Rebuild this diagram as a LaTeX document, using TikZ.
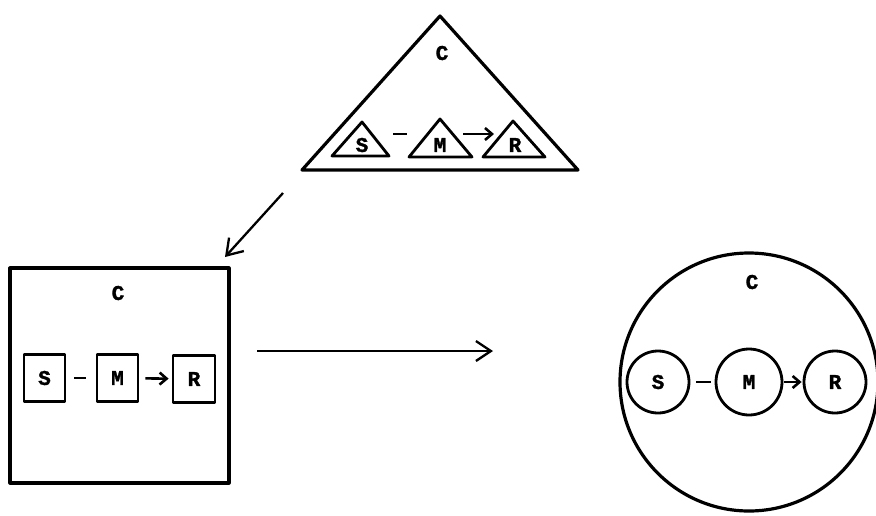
\documentclass[tikz,border=0pt]{standalone}
\usepackage{fontspec}
\setmonofont[BoldFeatures={FakeBold=1.5}]{Liberation Mono}
\usetikzlibrary{arrows.meta}
\tikzset{
  outer/.style={draw, line width=3.2pt, line join=round},
  inner/.style={draw, line width=2.8pt, line join=round},
  lbl/.style={font=\ttfamily\bfseries\fontsize{21}{21}\selectfont, inner sep=0pt},
  link/.style={line width=2.8pt},
  smallarrow/.style={line width=2.6pt, -{Straight Barb[length=7pt,width=12pt]}},
  bigarrow/.style={line width=2.3pt, -{Straight Barb[length=15pt,width=20pt]}},
  sqbox/.style={inner, rectangle, minimum width=41pt, minimum height=47pt, inner sep=0pt},
  circ/.style={inner, circle, inner sep=0pt},
}
\begin{document}
\begin{tikzpicture}[x=1pt,y=-1pt]
\useasboundingbox (0,0) rectangle (876,515);
% ---- triangle ----
\draw[outer] (440,16) -- (578,170) -- (302,170) -- cycle;
\node[lbl] (tC) at (442,53) {C};
\draw[inner] (362,122) -- (389,156) -- (332,156) -- cycle;
\draw[inner] (440,119) -- (472,157) -- (409,157) -- cycle;
\draw[inner] (513,121) -- (545,157) -- (483,157) -- cycle;
\node[lbl] (tS) at (362,145) {S};
\node[lbl] (tM) at (440,145) {M};
\node[lbl] (tR) at (515,145) {R};
\coordinate (tSr) at (393,134);
\coordinate (tMl) at (407,134);
\coordinate (tMr) at (463,134);
\coordinate (tRl) at (494,134);
\draw[link] (tSr) -- (tMl);
\draw[smallarrow] (tMr) -- (tRl);
% ---- square ----
\node[outer, rectangle, minimum width=219pt, minimum height=215pt] (sq) at (119.5,375.5) {};
\node[lbl] (sC) at (118,293) {C};
\node[sqbox, lbl] (sS) at (44.5,378) {S};
\node[sqbox, lbl] (sM) at (117.5,378) {M};
\node[sqbox, lbl, minimum width=42pt] (sR) at (194,379) {R};
\draw[link, shorten <=8pt, shorten >=10pt] (sS) -- (sM);
\draw[smallarrow, shorten <=6pt, shorten >=3pt] (sM) -- (sR);
% ---- circle ----
\node[outer, circle, minimum size=258pt, inner sep=0pt] (ci) at (749,382) {};
\node[lbl] (cC) at (752,282) {C};
\node[circ, lbl, minimum size=62pt] (cS) at (658,382) {S};
\node[circ, lbl, minimum size=66pt] (cM) at (749,382) {M};
\node[circ, lbl, minimum size=62pt] (cR) at (835,382) {R};
\draw[link, shorten <=6pt, shorten >=4pt] (cS) -- (cM);
\draw[smallarrow, shorten <=1pt, shorten >=1pt] (cM) -- (cR);
% ---- main arrows ----
\coordinate (a1s) at (283,193);
\coordinate (a1e) at (225,257);
\draw[bigarrow] (a1s) -- (a1e);
\coordinate (a2s) at (257,351);
\coordinate (a2e) at (493,351);
\draw[bigarrow] (a2s) -- (a2e);
\end{tikzpicture}
\end{document}
